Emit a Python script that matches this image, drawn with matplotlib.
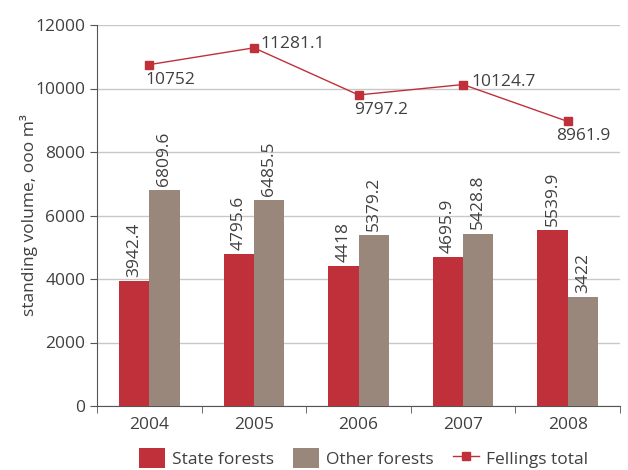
import matplotlib
matplotlib.use('Agg')
import matplotlib.pyplot as plt
import numpy as np

years = ['2004', '2005', '2006', '2007', '2008']
state_forests = [3942.4, 4795.6, 4418, 4695.9, 5539.9]
other_forests = [6809.6, 6485.5, 5379.2, 5428.8, 3422]
fellings_total = [10752, 11281.1, 9797.2, 10124.7, 8961.9]
fellings_labels = ['10752', '11281.1', '9797.2', '10124.7', '8961.9']

RED = '#c0303a'
GREY = '#9a877c'
TXT = '#404040'

plt.rcParams['font.family'] = ['Open Sans', 'DejaVu Sans']
plt.rcParams['font.size'] = 12.5
plt.rcParams['text.color'] = TXT
plt.rcParams['axes.labelcolor'] = TXT
plt.rcParams['xtick.color'] = TXT
plt.rcParams['ytick.color'] = TXT

fig = plt.figure(figsize=(6.28, 4.70), dpi=100)
ax = fig.add_axes([97 / 628, 1 - 406 / 470, 523 / 628, 381 / 470])

x = np.arange(len(years))
w = 0.29
b1 = ax.bar(x - w / 2, state_forests, w, color=RED, label='State forests', zorder=3)
b2 = ax.bar(x + w / 2, other_forests, w, color=GREY, label='Other forests', zorder=3)
line, = ax.plot(x, fellings_total, color=RED, lw=1, marker='s', ms=6,
                label='Fellings total', zorder=4)

for bars, vals in [(b1, state_forests), (b2, other_forests)]:
    for r, v in zip(bars, vals):
        ax.annotate(f'{v:g}', (r.get_x() + r.get_width() / 2, v),
                    xytext=(0, 3), textcoords='offset points',
                    rotation=90, ha='center', va='bottom')

# fellings labels: (dx, dy) in points, alignment
offs = [((-3, -5), 'left', 'top'), ((5, 3), 'left', 'center'),
        ((-3, -5), 'left', 'top'), ((6, 2), 'left', 'center'),
        ((-8, -5), 'left', 'top')]
for xi, v, lab, (o, ha, va) in zip(x, fellings_total, fellings_labels, offs):
    ax.annotate(lab, (xi, v), xytext=o, textcoords='offset points', ha=ha, va=va)

ax.set_xlim(-0.5, len(years) - 0.5)
ax.set_ylim(0, 12000)
ax.set_yticks(range(0, 12001, 2000))
ax.set_xticks(x)
ax.set_xticklabels(years)
ax.tick_params(axis='x', which='major', length=0, pad=8)
ax.set_xticks(np.arange(-0.5, len(years), 1), minor=True)
ax.tick_params(axis='x', which='minor', length=5, direction='out', color='#555555')
ax.tick_params(axis='y', length=5, color='#555555')
ax.grid(axis='y', color='#c8c8c8', lw=1, zorder=0)
for s in ['top', 'right']:
    ax.spines[s].set_visible(False)
ax.spines['left'].set_color('#555555')
ax.spines['bottom'].set_color('#555555')
ax.set_ylabel('standing volume, ooo m³', labelpad=-2)

ax.legend(handles=[b1, b2, line], loc='upper center', bbox_to_anchor=(0.51, -0.092),
          ncol=3, frameon=False, handlelength=1.5, handleheight=1.4,
          columnspacing=1.1, handletextpad=0.4, borderaxespad=0)

fig.savefig('out.png', dpi=100)
